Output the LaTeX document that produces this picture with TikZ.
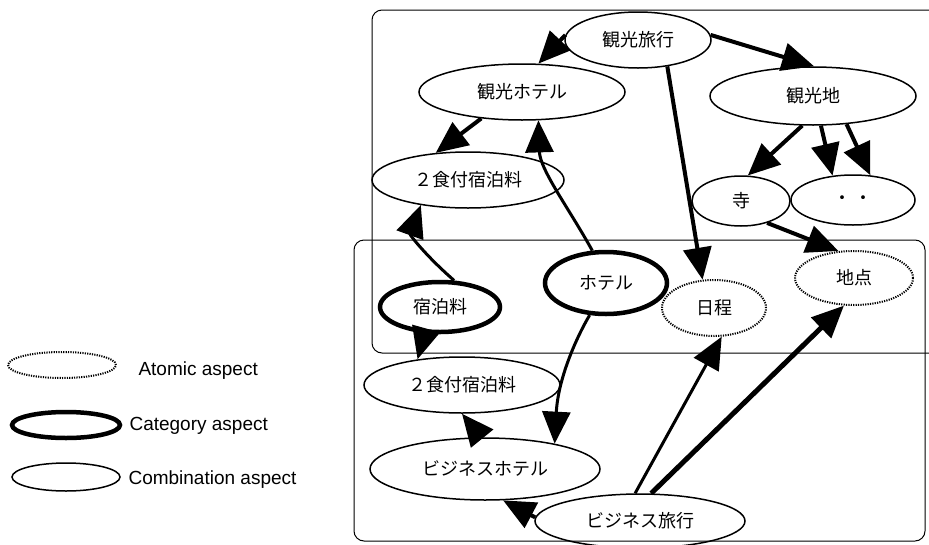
\documentclass[tikz,border=0pt]{standalone}
\usepackage{fontspec}
\setmainfont{Liberation Sans}
\newfontfamily\jp{Noto Sans CJK JP}
\usetikzlibrary{shapes.geometric,arrows.meta}
\tikzset{
  asp/.style={ellipse,draw,line width=1.5pt,inner sep=0pt,font=\jp\fontsize{18}{20}\selectfont},
  cat/.style={asp,line width=4.5pt},
  atom/.style={asp,line width=2pt,dash pattern=on 1.2pt off 1.2pt},
  conn/.style={line width=4pt,-{Triangle[length=32pt,width=28pt]}},
  connthin/.style={line width=3pt,-{Triangle[length=32pt,width=28pt]}},
  grp/.style={draw,line width=1pt,rounded corners=10pt},
  leg/.style={anchor=west,font=\fontsize{19}{22}\selectfont},
}
\begin{document}
\begin{tikzpicture}[x=1pt,y=-1pt]
\useasboundingbox (0,0) rectangle (929,544);
% group boxes
\draw[grp] (372,10) rectangle (945,353);
\draw[grp] (354,240) rectangle (925,541);
% nodes
\node[asp,minimum width=146pt,minimum height=56pt] (kr) at (638,40) {観光旅行};
\node[asp,minimum width=206pt,minimum height=56pt] (kh) at (522,92) {観光ホテル};
\node[asp,minimum width=206pt,minimum height=58pt] (kc) at (813,96) {観光地};
\node[asp,minimum width=192pt,minimum height=56pt] (u2) at (468,180) {２食付宿泊料};
\node[asp,minimum width=98pt,minimum height=50pt] (tera) at (741,201) {寺};
\node[asp,minimum width=124pt,minimum height=50pt] (dots) at (853,200) {・\hspace{3pt}・};
\node[cat,minimum width=122pt,minimum height=62pt] (hotel) at (606,283) {ホテル};
\node[cat,minimum width=120pt,minimum height=50pt] (shuku) at (440,307) {宿泊料};
\node[atom,minimum width=104pt,minimum height=56pt] (nittei) at (714,308) {日程};
\node[atom,minimum width=118pt,minimum height=54pt] (chiten) at (854,278) {地点};
\node[asp,minimum width=196pt,minimum height=56pt] (l2) at (462,385) {２食付宿泊料};
\node[asp,minimum width=230pt,minimum height=62pt] (bh) at (485,469) {ビジネスホテル};
\node[asp,minimum width=210pt,minimum height=54pt] (br) at (640,521) {ビジネス旅行};
% edges
\draw[conn] (kr.176) -- (kh.60);
\draw[conn] (kr.4) -- (kc.88);
\draw[conn] (kr.318) -- (nittei.112);
\draw[conn] (kh.213) -- (u2.140);
\draw[connthin] (hotel.113) .. controls (570,210) and (540,170) .. (kh.300);
\draw[connthin] (shuku.62) .. controls (425,255) and (410,235) .. (u2.208);
\draw[conn] (shuku.240) -- (l2.150);
\draw[connthin] (hotel.243) .. controls (575,340) and (558,380) .. (bh.20);
\draw[conn] (bh.97) -- (l2.270);
\draw[conn] (br.178) -- (bh.300);
\draw[connthin] (br.100) -- (nittei.285);
\draw[line width=5pt,-{Triangle[length=32pt,width=28pt]}] (br.68) -- (chiten.250);
\draw[conn] (kc.250) -- (tera.75);
\draw[conn] (kc.285) -- (dots.130);
\draw[conn] (kc.320) -- (dots.55);
\draw[conn] (tera.320) -- (chiten.120);
% legend
\node[atom,minimum width=108pt,minimum height=26pt] (la) at (62,365) {};
\node[cat,minimum width=108pt,minimum height=26pt] (lc) at (66,425) {};
\node[asp,minimum width=108pt,minimum height=28pt] (lm) at (66,477) {};
\node[leg] (ta) at (135,371) {Atomic aspect};
\node[leg] (tc) at (126,426) {Category aspect};
\node[leg] (tm) at (125,480) {Combination aspect};
\end{tikzpicture}
\end{document}
